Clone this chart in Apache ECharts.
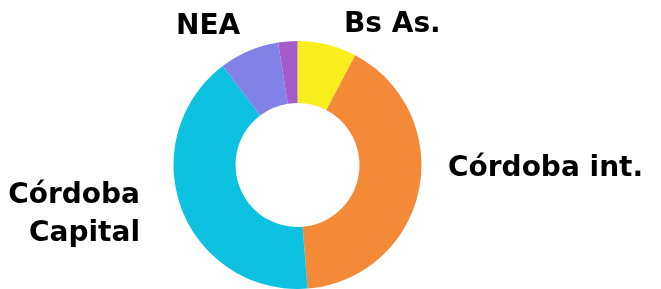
<!DOCTYPE html>
<html>
<head>
<meta charset="utf-8">
<script src="https://cdn.jsdelivr.net/npm/echarts@6/dist/echarts.min.js"></script>
<style>
html,body{margin:0;padding:0;background:#fff;}
#chart{width:661px;height:289px;}
</style>
</head>
<body>
<div id="chart"></div>
<script>
// Data (percent shares, clockwise from 12 o'clock)
var categories = ['Bs As.', 'Córdoba int.', 'Córdoba Capital', 'NEA', 'Otros'];
var values = [7.7, 41.0, 41.0, 7.8, 2.5];
var colors = ['#FBEE1F', '#F48A38', '#0DC1E0', '#8181E6', '#A55BC9'];
var labelTexts = ['Bs As.', 'Córdoba int.', 'Córdoba\nCapital', 'NEA', ''];

// label placement (layout only)
var labelPos = [
  {x: 344, y: 25, align: 'left'},
  {x: 448, y: 169, align: 'left'},
  {x: 140, y: 215, align: 'right'},
  {x: 176, y: 27, align: 'left'},
  {x: 0, y: 0, align: 'left'}
];

var chart = echarts.init(document.getElementById('chart'), null, {renderer: 'canvas'});
var data = categories.map(function (c, i) {
  return {
    name: c,
    value: values[i],
    itemStyle: {color: colors[i]},
    label: {show: labelTexts[i] !== '', formatter: labelTexts[i]}
  };
});
chart.setOption({
  animation: false,
  series: [{
    type: 'pie',
    center: [297.5, 165],
    radius: [62, 124],
    startAngle: 90,
    clockwise: true,
    avoidLabelOverlap: false,
    itemStyle: {borderWidth: 0},
    label: {
      show: true,
      position: 'outside',
      color: '#000',
      fontFamily: 'DejaVu Sans',
      fontWeight: 'bold',
      fontSize: 28,
      lineHeight: 38
    },
    labelLine: {show: false},
    labelLayout: function (p) {
      var lp = labelPos[p.dataIndex];
      return {x: lp.x, y: lp.y, align: lp.align, verticalAlign: 'middle'};
    },
    emphasis: {disabled: true},
    data: data
  }]
});
</script>
</body>
</html>
